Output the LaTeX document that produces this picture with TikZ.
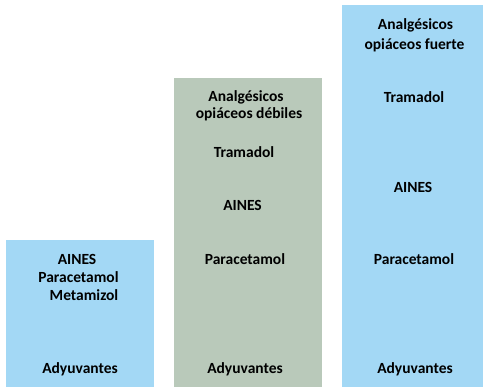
\documentclass[tikz,border=0pt]{standalone}
\usepackage{fontspec}
\setmainfont{Carlito}
\definecolor{boxblue}{HTML}{A3D8F5}
\definecolor{boxgreen}{HTML}{B9C9BA}
\begin{document}
\begin{tikzpicture}[x=1pt,y=-1pt,
  lbl/.style={font=\bfseries\fontsize{15.5}{18}\selectfont, text=black, inner sep=0pt, align=center},
  col/.style={inner sep=0pt, outer sep=0pt}]
\useasboundingbox (0,0) rectangle (484,387);
\node[col, fill=boxblue, minimum width=148pt, minimum height=147pt, anchor=north west] (c1) at (6,240) {};
\node[col, fill=boxgreen, minimum width=148pt, minimum height=309pt, anchor=north west] (c2) at (173.5,78) {};
\node[col, fill=boxblue, minimum width=141pt, minimum height=382pt, anchor=north west] (c3) at (341.5,5) {};
% left
\node[lbl] (l1) at (77,259) {AINES};
\node[lbl] (l2) at (78.5,277) {Paracetamol};
\node[lbl] (l3) at (84,295) {Metamizol};
\node[lbl] (l4) at (80,369) {Adyuvantes};
% middle
\node[lbl] (m1) at (246,97) {Analgésicos};
\node[lbl] (m2) at (249,114) {opiáceos débiles};
\node[lbl] (m3) at (244,152) {Tramadol};
\node[lbl] (m4) at (242.5,205) {AINES};
\node[lbl] (m5) at (245,259) {Paracetamol};
\node[lbl] (m6) at (245,369) {Adyuvantes};
% right
\node[lbl] (r1) at (415.5,25) {Analgésicos};
\node[lbl] (r2) at (414.5,45) {opiáceos fuerte};
\node[lbl] (r3) at (414,97) {Tramadol};
\node[lbl] (r4) at (413,187) {AINES};
\node[lbl] (r5) at (414,259) {Paracetamol};
\node[lbl] (r6) at (415,369) {Adyuvantes};
\end{tikzpicture}
\end{document}
